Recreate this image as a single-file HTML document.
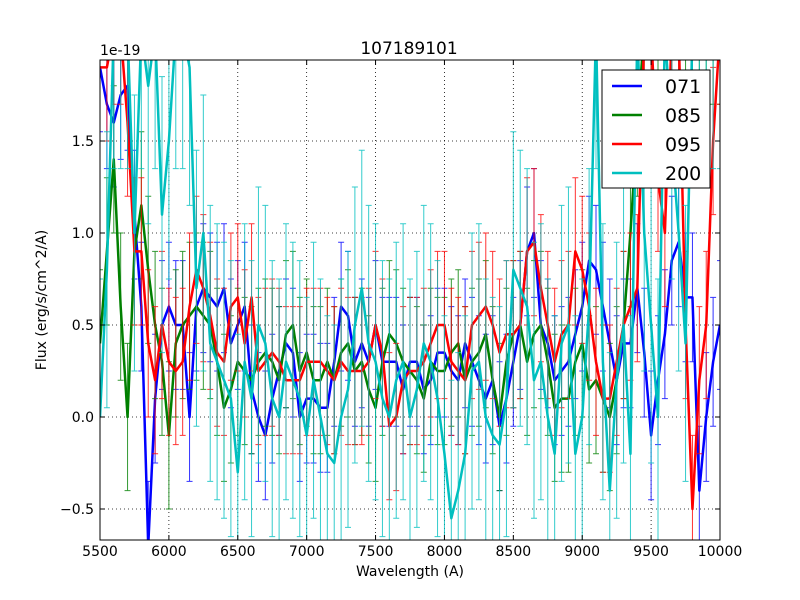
<!DOCTYPE html>
<html><head><meta charset="utf-8"><style>html,body{margin:0;padding:0;width:800px;height:600px;overflow:hidden;background:#fff}svg{display:block;font-family:"DejaVu Sans","Liberation Sans",sans-serif}</style></head>
<body>
<svg id="chart" width="800" height="600" viewBox="0 0 800 600">
<defs><clipPath id="clip"><rect x="100" y="60" width="620" height="480"/></clipPath></defs>
<rect width="800" height="600" fill="#fff"/>
<g id="grid"></g>
<g id="marks" clip-path="url(#clip)"></g>
<rect x="100" y="60" width="620" height="480" fill="none" stroke="#000" stroke-width="1"/>
<g id="axes"></g>
<text x="409" y="54" font-size="17" text-anchor="middle">107189101</text>
<text x="100" y="55" font-size="14">1e-19</text>
<text x="410" y="576" font-size="14" text-anchor="middle">Wavelength (A)</text>
<text x="46" y="300" font-size="14" text-anchor="middle" transform="rotate(-90 46 300)">Flux (erg/s/cm^2/A)</text>
<g id="legend"></g>
</svg>
<script>
const xTicks=[5500,6000,6500,7000,7500,8000,8500,9000,9500,10000];
const yTicks=[-0.5,0.0,0.5,1.0,1.5];
const yTickLabels=["\u22120.5","0.0","0.5","1.0","1.5"];
const seriesNames=["071","085","095","200"];
const seriesColors=["#0000ff","#008000","#ff0000","#00bfbf"];
const wlStart=5500, wlStep=50;
const s071=[1.9,1.7,1.6,1.75,1.8,1.1,0.6,-0.7,0.1,0.5,0.6,0.5,0.5,0.0,0.6,0.7,0.65,0.6,0.7,0.4,0.5,0.6,0.15,0.0,-0.1,0.1,0.25,0.4,0.35,0.0,0.1,0.1,0.05,0.05,0.3,0.6,0.55,0.3,0.4,0.3,0.5,0.3,0.3,0.3,0.15,0.3,0.3,0.15,0.2,0.35,0.35,0.25,0.2,0.4,0.3,0.2,0.1,0.2,-0.05,0.1,0.3,0.5,0.9,1.0,0.5,0.4,0.2,0.25,0.3,0.45,0.6,0.85,0.8,0.6,0.4,0.2,0.4,0.4,0.7,0.35,-0.1,0.2,0.45,0.85,0.95,0.65,0.65,-0.4,0.0,0.3,0.5];
const s085=[0.4,0.9,1.4,0.6,0.0,0.9,1.15,0.8,0.5,0.3,-0.1,0.4,0.5,0.55,0.6,0.55,0.5,0.3,0.05,0.15,0.3,0.25,0.2,0.3,0.35,0.3,0.2,0.45,0.5,0.25,0.35,0.2,0.2,0.3,0.2,0.35,0.4,0.25,0.3,0.15,0.05,0.3,0.45,0.4,0.3,0.25,0.2,0.1,0.3,0.25,0.25,0.35,0.4,0.2,0.3,0.35,0.45,0.2,0.0,0.3,0.45,0.5,0.3,0.45,0.5,0.3,0.05,0.1,0.1,0.3,0.4,0.15,0.2,0.1,0.0,0.2,0.5,1.0,1.6,2.1,2.1,2.1,2.1,2.1,2.1,2.1,2.1,2.1,2.1,2.1,2.1];
const s095=[1.9,1.9,2.1,2.1,1.6,0.9,0.9,0.4,0.2,0.5,0.3,0.25,0.3,0.6,0.8,0.7,0.55,0.35,0.3,0.6,0.65,0.4,0.65,0.25,0.3,0.35,0.3,0.2,0.2,0.2,0.3,0.3,0.3,0.25,0.2,0.3,0.25,0.25,0.25,0.3,0.5,0.35,-0.05,0.0,0.2,0.25,0.25,0.3,0.4,0.5,0.5,0.3,0.25,0.2,0.5,0.55,0.6,0.5,0.35,0.45,0.45,0.5,0.9,0.95,0.7,0.5,0.3,0.45,0.5,0.9,0.8,0.6,0.3,0.1,0.1,0.3,0.5,0.6,0.7,2.1,2.1,1.3,1.0,2.1,2.1,0.5,-0.5,0.2,0.5,1.5,2.1];
const s200=[0.0,0.8,2.1,2.1,2.1,1.0,2.1,1.8,2.1,1.1,1.5,2.1,2.1,1.9,0.7,1.0,0.4,0.3,0.2,0.1,-0.3,0.3,0.1,0.5,0.4,0.1,0.0,0.3,0.2,0.1,-0.1,0.2,0.0,-0.2,-0.25,0.0,0.15,0.5,0.7,0.4,0.3,0.1,0.0,0.2,0.3,0.0,0.15,0.4,0.3,0.1,-0.2,-0.55,-0.4,-0.2,0.25,0.3,0.0,-0.1,-0.15,0.1,0.8,0.7,0.6,0.2,0.3,0.0,-0.2,0.4,0.5,-0.2,0.0,0.6,2.1,0.3,-0.4,0.2,0.5,-0.2,2.1,1.0,0.5,0.0,2.1,1.5,1.0,0.4,2.1,2.1,2.1,2.1,2.1];
const seriesErr=[0.35,0.4,0.4,0.75];
const allSeries=[s071,s085,s095,s200];
const NS="http://www.w3.org/2000/svg";
const X=v=>100+(v-5500)/4500*620;
const Y=v=>417-v*184;
const clampY=y=>Math.max(60,Math.min(540,y));
function mk(tag,attrs,parent){const e=document.createElementNS(NS,tag);for(const k in attrs)e.setAttribute(k,attrs[k]);parent.appendChild(e);return e;}
const grid=document.getElementById('grid'),axes=document.getElementById('axes'),marks=document.getElementById('marks'),leg=document.getElementById('legend');
xTicks.forEach(t=>{const x=X(t);
 const g=mk('line',{x1:x,x2:x,y1:60,y2:540,stroke:'#000','stroke-dasharray':'1,3','stroke-width':0.8},grid);
 
 
 mk('line',{x1:x,x2:x,y1:540,y2:535,stroke:'#000'},axes);mk('line',{x1:x,x2:x,y1:60,y2:65,stroke:'#000'},axes);
 const l=mk('text',{x:x,y:556,'font-size':14,'text-anchor':'middle'},axes);l.textContent=t;
 
 });
yTicks.forEach((t,i)=>{const y=Y(t);
 const g=mk('line',{x1:100,x2:720,y1:y,y2:y,stroke:'#000','stroke-dasharray':'1,3','stroke-width':0.8},grid);
 
 
 mk('line',{x1:100,x2:105,y1:y,y2:y,stroke:'#000'},axes);mk('line',{x1:715,x2:720,y1:y,y2:y,stroke:'#000'},axes);
 const l=mk('text',{x:94,y:y+5,'font-size':14,'text-anchor':'end'},axes);l.textContent=yTickLabels[i];
 
 });
allSeries.forEach((s,si)=>{const c=seriesColors[si],e=seriesErr[si];
 const g=mk('g',{},marks);
 
 
 s.forEach((v,i)=>{const x=X(wlStart+wlStep*i),r1=Y(v+e),r2=Y(v-e);
  if(r2<60||r1>540)return;
  const y1=clampY(r1),y2=clampY(r2);
  let d=`M${x},${y1}V${y2}`;
  if(r1>=60)d+=`M${x-3},${y1}H${x+3}`;
  if(r2<=540)d+=`M${x-3},${y2}H${x+3}`;
  const b=mk('path',{d:d,stroke:c,'stroke-width':1,fill:'none',opacity:0.8},g);
  
  });
 const p=mk('polyline',{points:s.map((v,i)=>X(wlStart+wlStep*i)+','+Y(v)).join(' '),fill:'none',stroke:c,'stroke-width':2.5,'stroke-linejoin':'round'},g);
 
 });
const box=mk('rect',{x:602,y:70,width:108,height:118,fill:'#fff',stroke:'#000'},leg);


seriesNames.forEach((n,i)=>{const y=86+i*29;
 const ln=mk('line',{x1:612,x2:642,y1:y,y2:y,stroke:seriesColors[i],'stroke-width':2.5},leg);
 
 
 const t=mk('text',{x:665,y:y+7,'font-size':19},leg);t.textContent=n;
 
 });
</script>
</body></html>
